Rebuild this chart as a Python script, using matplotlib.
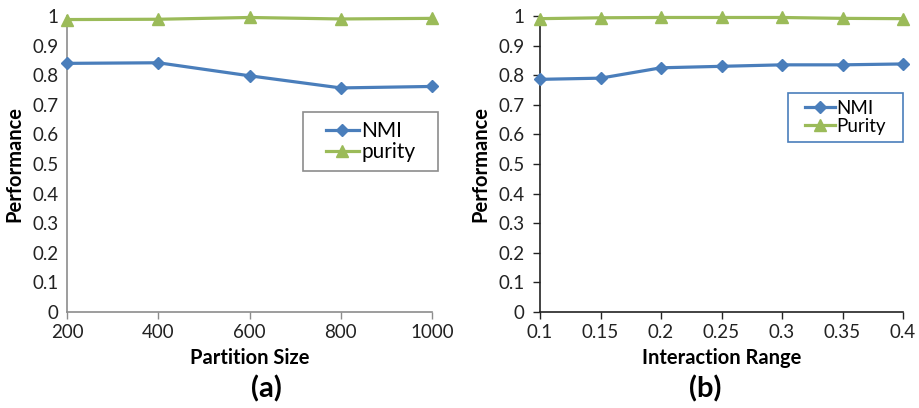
import matplotlib.pyplot as plt
import matplotlib.ticker as ticker
from matplotlib.patches import Rectangle

plt.rcParams['font.family'] = ['Lato', 'DejaVu Sans']

# (a) performance vs partition size
partition_size = [200, 400, 600, 800, 1000]
nmi_a = [0.840, 0.842, 0.798, 0.757, 0.762]
purity_a = [0.988, 0.989, 0.995, 0.990, 0.992]

# (b) performance vs interaction range
interaction_range = [0.1, 0.15, 0.2, 0.25, 0.3, 0.35, 0.4]
nmi_b = [0.786, 0.790, 0.825, 0.830, 0.835, 0.835, 0.838]
purity_b = [0.991, 0.994, 0.995, 0.995, 0.995, 0.992, 0.991]

y_ticks = [0, 0.1, 0.2, 0.3, 0.4, 0.5, 0.6, 0.7, 0.8, 0.9, 1]
y_labels = ['0', '0.1', '0.2', '0.3', '0.4', '0.5', '0.6', '0.7', '0.8', '0.9', '1']

BLUE = '#4a7ebb'
GREEN = '#9bbb59'

W, H = 919, 408
fig = plt.figure(figsize=(W / 100, H / 100), dpi=100)


def make_axes(x0, x1, y0, y1):
    return fig.add_axes([x0 / W, 1 - y1 / H, (x1 - x0) / W, (y1 - y0) / H])


def legend_with_box(ax, x0, x1, y0, y1, edge, fontsize):
    # frame drawn as a figure rectangle, legend entries centred inside it
    fig.patches.append(Rectangle((x0 / W, 1 - y1 / H), (x1 - x0) / W, (y1 - y0) / H,
                                 transform=fig.transFigure, fill=True, facecolor='white',
                                 edgecolor=edge, lw=1.2, zorder=5))
    leg = ax.legend(loc='center', bbox_to_anchor=((x0 + x1) / 2 / W, 1 - (y0 + y1) / 2 / H),
                    bbox_transform=fig.transFigure, fontsize=fontsize, frameon=False,
                    handlelength=1.6, handletextpad=0.1, borderpad=0,
                    labelspacing=0.05)
    leg.set_zorder(6)
    fig.legends.append(leg)
    ax.get_legend().remove()
    return leg


def style(ax, x, xlabel, spine_color, yticks_len):
    ax.set_ylim(0, 1)
    ax.set_xlim(x[0], x[-1])
    ax.set_xticks(x)
    ax.set_yticks(y_ticks)
    ax.set_yticklabels(y_labels)
    for s in ['top', 'right']:
        ax.spines[s].set_visible(False)
    for s in ['left', 'bottom']:
        ax.spines[s].set_color(spine_color)
        ax.spines[s].set_linewidth(1.2)
    ax.tick_params(axis='x', direction='out', length=5, width=1.0,
                   color=spine_color, labelsize=13.5, pad=4)
    ax.tick_params(axis='y', direction='out', length=yticks_len, width=1.0,
                   color=spine_color, labelsize=13.5, pad=6)
    ax.set_xlabel(xlabel, fontsize=14.5, fontweight='bold', labelpad=5)
    ax.set_ylabel('Performance', fontsize=14.5, fontweight='bold', labelpad=6)
    for lab in ax.get_xticklabels() + ax.get_yticklabels():
        lab.set_color('#222222')


ax1 = make_axes(67, 432, 16, 312)
ax1.plot(partition_size, nmi_a, color=BLUE, lw=2.3, marker='D', ms=6.5,
         label='NMI', clip_on=False, zorder=3)
ax1.plot(partition_size, purity_a, color=GREEN, lw=2.3, marker='^', ms=8,
         label='purity', clip_on=False, zorder=3)
style(ax1, partition_size, 'Partition Size', '#8c8c8c', 0)
ax1.xaxis.set_major_formatter(ticker.FuncFormatter(lambda v, p: f'{int(v)}'))
legend_with_box(ax1, 303, 438, 112, 171, '#8c8c8c', 15)

ax2 = make_axes(540, 903, 16, 312)
ax2.plot(interaction_range, nmi_b, color=BLUE, lw=2.3, marker='D', ms=6.5,
         label='NMI', clip_on=False, zorder=3)
ax2.plot(interaction_range, purity_b, color=GREEN, lw=2.3, marker='^', ms=8,
         label='Purity', clip_on=False, zorder=3)
style(ax2, interaction_range, 'Interaction Range', '#222222', 5)
ax2.xaxis.set_major_formatter(ticker.FuncFormatter(lambda v, p: f'{v:g}'))
legend_with_box(ax2, 788, 903, 93, 142, '#4a7ebb', 13.5)

fig.text(266 / W, 1 - 389 / H, '(a)', ha='center', va='center',
         fontsize=21, fontweight='bold')
fig.text(705 / W, 1 - 389 / H, '(b)', ha='center', va='center',
         fontsize=21, fontweight='bold')

fig.savefig('out.png', dpi=100)
